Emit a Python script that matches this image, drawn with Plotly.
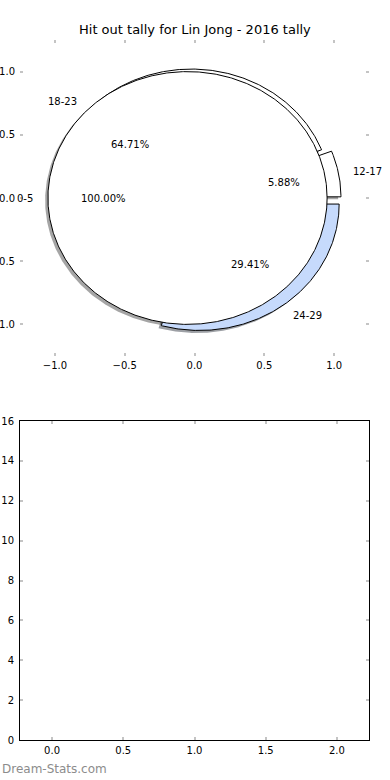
import numpy as np
import plotly.graph_objects as go

# ---------------- data ----------------
title_text = "Hit out tally for Lin Jong - 2016 tally"
outer_labels = ["12-17", "18-23", "24-29"]
outer_values = [1, 11, 5]
outer_colors = ["#ffffff", "#ffffff", "#c6dafc"]
outer_explode = [0.05, 0.03, 0.06]
inner_labels = ["0-5"]
inner_values = [17]
inner_colors = ["#ffffff"]
inner_explode = [0.05]
pie_ticks = [-1.0, -0.5, 0.0, 0.5, 1.0]
bar_xticks = [0.0, 0.5, 1.0, 1.5, 2.0]
bar_yticks = [0, 2, 4, 6, 8, 10, 12, 14, 16]
watermark = "Dream-Stats.com"

FONT = "DejaVu Sans"
W, H = 390, 780


def fmt(v):
    return f"{v:.1f}".replace("-", "\u2212")


def pie_geometry(values, explode, radius=1.0, start=0.0):
    total = float(sum(values))
    out = []
    theta1 = start
    for v, e in zip(values, explode):
        theta2 = theta1 + 360.0 * v / total
        mid = np.deg2rad((theta1 + theta2) / 2.0)
        cx, cy = e * np.cos(mid), e * np.sin(mid)
        out.append(dict(t1=theta1, t2=theta2, mid=mid, cx=cx, cy=cy,
                        r=radius, frac=v / total))
        theta1 = theta2
    return out


def wedge_xy(g, dx=0.0, dy=0.0):
    span = g["t2"] - g["t1"]
    n = max(int(span * 2), 8)
    th = np.deg2rad(np.linspace(g["t1"], g["t2"], n))
    xs = g["cx"] + dx + g["r"] * np.cos(th)
    ys = g["cy"] + dy + g["r"] * np.sin(th)
    if span < 359.9:
        xs = np.concatenate([[g["cx"] + dx], xs, [g["cx"] + dx]])
        ys = np.concatenate([[g["cy"] + dy], ys, [g["cy"] + dy]])
    return xs, ys


def shadow_color(hexcol):
    h = hexcol.lstrip("#")
    r, g, b = (int(h[i:i + 2], 16) for i in (0, 2, 4))
    return f"rgba({int(r*0.3)},{int(g*0.3)},{int(b*0.3)},0.5)"


outer = pie_geometry(outer_values, outer_explode)
inner = pie_geometry(inner_values, inner_explode)

fig = go.Figure()

# shadows first (below every wedge)
for geo, cols in ((outer, outer_colors), (inner, inner_colors)):
    for g, c in zip(geo, cols):
        xs, ys = wedge_xy(g, -0.02, -0.02)
        fig.add_trace(go.Scatter(x=xs, y=ys, mode="lines", fill="toself",
                                 fillcolor=shadow_color(c), line=dict(width=0),
                                 hoverinfo="skip", xaxis="x", yaxis="y"))

# outer wedges then inner wedge
for geo, cols in ((outer, outer_colors), (inner, inner_colors)):
    for g, c in zip(geo, cols):
        xs, ys = wedge_xy(g)
        fig.add_trace(go.Scatter(x=xs, y=ys, mode="lines", fill="toself",
                                 fillcolor=c, line=dict(color="black", width=1),
                                 hoverinfo="skip", xaxis="x", yaxis="y"))

annotations = []
for geo, labels in ((outer, outer_labels), (inner, inner_labels)):
    for g, lab in zip(geo, labels):
        xt = g["cx"] + 1.1 * g["r"] * np.cos(g["mid"])
        yt = g["cy"] + 1.1 * g["r"] * np.sin(g["mid"])
        annotations.append(dict(x=xt, y=yt, xref="x", yref="y", text=lab,
                                showarrow=False, borderpad=0,
                                xanchor="left" if xt > 0 else "right",
                                yanchor="middle",
                                font=dict(family=FONT, size=10, color="black")))
        xp = g["cx"] + 0.6 * g["r"] * np.cos(g["mid"])
        yp = g["cy"] + 0.6 * g["r"] * np.sin(g["mid"])
        annotations.append(dict(x=xp, y=yp, xref="x", yref="y",
                                text=f"{g['frac']*100:.2f}%", showarrow=False,
                                xanchor="center", yanchor="middle",
                                font=dict(family=FONT, size=10, color="black")))

# empty lower axes
fig.add_trace(go.Scatter(x=[], y=[], xaxis="x2", yaxis="y2", hoverinfo="skip"))

annotations.append(dict(x=0.5, y=1 - 30 / H, xref="paper", yref="paper",
                        text=title_text, showarrow=False, xanchor="center",
                        yanchor="middle",
                        font=dict(family=FONT, size=13, color="black")))
annotations.append(dict(x=0, y=1 - 769 / H, xref="paper", yref="paper",
                        text=watermark, showarrow=False, xanchor="left",
                        yanchor="middle",
                        font=dict(family=FONT, size=12, color="#8c8c8c")))

tick_common = dict(ticks="inside", ticklen=3, tickwidth=2, tickcolor="#c4c4c4",
                   mirror="ticks", showgrid=False, zeroline=False,
                   automargin=False,
                   tickfont=dict(family=FONT, size=10, color="black"))
xdom = [20 / W, 369 / W]

fig.update_layout(
    width=W, height=H, margin=dict(l=0, r=0, t=0, b=0, pad=0),
    paper_bgcolor="white", plot_bgcolor="white", showlegend=False,
    annotations=annotations,
    xaxis=dict(domain=xdom, range=[-1.25, 1.25], anchor="y",
               tickvals=pie_ticks, ticktext=[fmt(v) for v in pie_ticks],
               showline=False, ticklabelstandoff=2, **tick_common),
    yaxis=dict(domain=[1 - 356 / H, 1 - 40 / H], range=[-1.25, 1.25], anchor="x",
               tickvals=pie_ticks, ticktext=[fmt(v) for v in pie_ticks],
               showline=False, ticklabelstandoff=4, **tick_common),
    xaxis2=dict(domain=xdom, range=[-0.225, 2.225], anchor="y2",
                tickvals=bar_xticks, ticktext=[fmt(v) for v in bar_xticks],
                showline=True, linecolor="black", linewidth=1,
                ticklabelstandoff=1, **tick_common),
    yaxis2=dict(domain=[1 - 740 / H, 1 - 421 / H], range=[0, 16], anchor="x2",
                tickvals=bar_yticks, ticktext=[str(v) for v in bar_yticks],
                showline=True, linecolor="black", linewidth=1,
                ticklabelstandoff=3, **tick_common),
)

fig.write_html("out.html", config={"displayModeBar": False},
               post_script="document.body.style.margin='0';"
                           "document.body.style.overflow='hidden';")
